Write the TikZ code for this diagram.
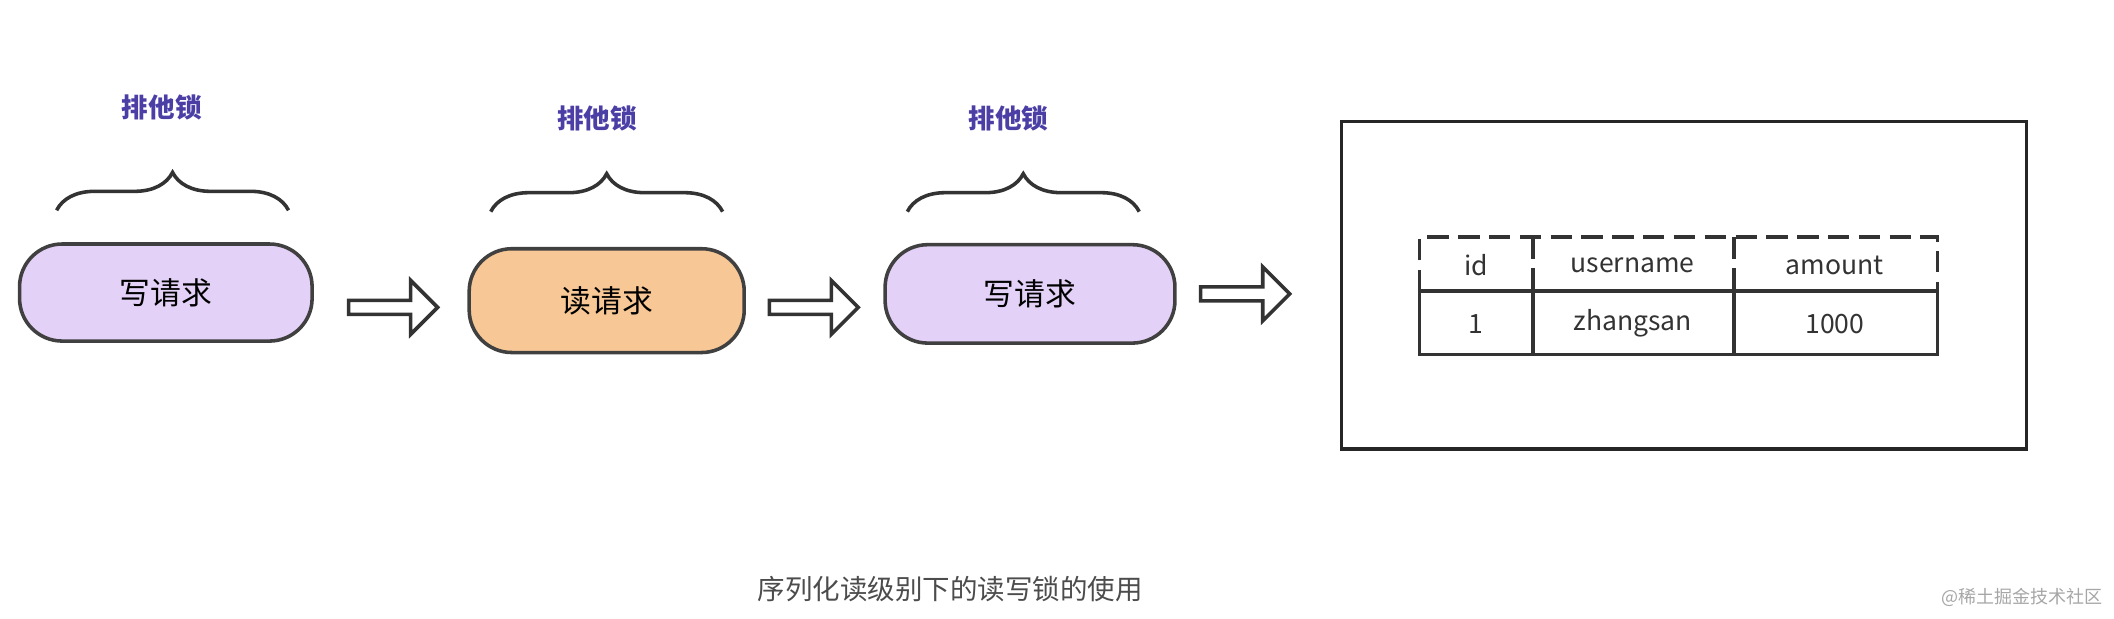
\documentclass[tikz,border=0pt]{standalone}
\usepackage{fontspec}
\setmainfont{Noto Sans CJK SC}
\usetikzlibrary{decorations.pathreplacing,shapes.arrows}
\definecolor{purp}{HTML}{E3D1F7}
\definecolor{oran}{HTML}{F7C896}
\definecolor{lbl}{HTML}{4B3FA6}
\newlength{\pu}\setlength{\pu}{0.01cm}
\tikzset{
 pill/.style={draw=black!75,line width=0.75pt,rounded corners=9pt,minimum height=72\pu,font=\fontsize{6.5}{7}\selectfont},
 brc/.style={decorate,decoration={brace,amplitude=8pt},line width=0.75pt,draw=black!80},
 lab/.style={text=lbl,font=\bfseries\fontsize{5.6}{6}\selectfont},
 harrow/.style={single arrow,draw=black!80,line width=0.75pt,fill=white,minimum height=66\pu,minimum width=40\pu,single arrow head extend=2.5pt,inner sep=0.5pt},
 cell/.style={font=\fontsize{5.6}{6}\selectfont,text=black!80}
}
\begin{document}
\begin{tikzpicture}[x=0.01cm,y=-0.01cm]
\useasboundingbox (0,0) rectangle (1568,459);
\node[pill,fill=purp,minimum width=217\pu] (p1) at (123,217) {写请求};
\node[pill,fill=oran,minimum width=204\pu,minimum height=77\pu] (p2) at (450,223) {读请求};
\node[pill,fill=purp,minimum width=215\pu,minimum height=73\pu] (p3) at (764,218) {写请求};
\coordinate (b1l) at (42,156); \coordinate (b1r) at (214,156);
\coordinate (b2l) at (364,157); \coordinate (b2r) at (536,157);
\coordinate (b3l) at (673,157); \coordinate (b3r) at (845,157);
\draw[brc] (b1l) -- (b1r); \draw[brc] (b2l) -- (b2r); \draw[brc] (b3l) -- (b3r);
\node[lab] (l1) at (120,80) {排他锁};
\node[lab] (l2) at (443,88) {排他锁};
\node[lab] (l3) at (748,88) {排他锁};
\node[harrow] (a1) at (289,228) {};
\node[harrow] (a2) at (601,228) {};
\node[harrow] (a3) at (921,218) {};
\draw[line width=0.75pt,draw=black!85] (995,90) rectangle (1503,333);
\coordinate (t1) at (1053,176); \coordinate (t2) at (1437,176);
\coordinate (m1) at (1053,216); \coordinate (m2) at (1437,216);
\coordinate (u1) at (1053,263); \coordinate (u2) at (1437,263);
\draw[line width=0.75pt,dash pattern=on 4.5pt off 2pt,draw=black!80] (m1) -- (t1) -- (t2) -- (m2) (1137,176) -- (1137,216) (1286,176) -- (1286,216);
\draw[line width=0.75pt,draw=black!80] (m1) -- (u1) -- (u2) -- (m2) -- cycle (1137,216) -- (1137,263) (1286,216) -- (1286,263);
\node[cell] (c1) at (1095,197) {id};
\node[cell] (c2) at (1211,197) {username};
\node[cell] (c3) at (1361,197) {amount};
\node[cell] (c4) at (1095,240) {1};
\node[cell] (c5) at (1211,240) {zhangsan};
\node[cell] (c6) at (1361,240) {1000};
\node[text=black!70,font=\fontsize{5.8}{6}\selectfont] (cap) at (705,437) {序列化读级别下的读写锁的使用};
\node[text=black!35,font=\fontsize{3.8}{4}\selectfont] (wm) at (1500,443) {@稀土掘金技术社区};
\end{tikzpicture}
\end{document}
